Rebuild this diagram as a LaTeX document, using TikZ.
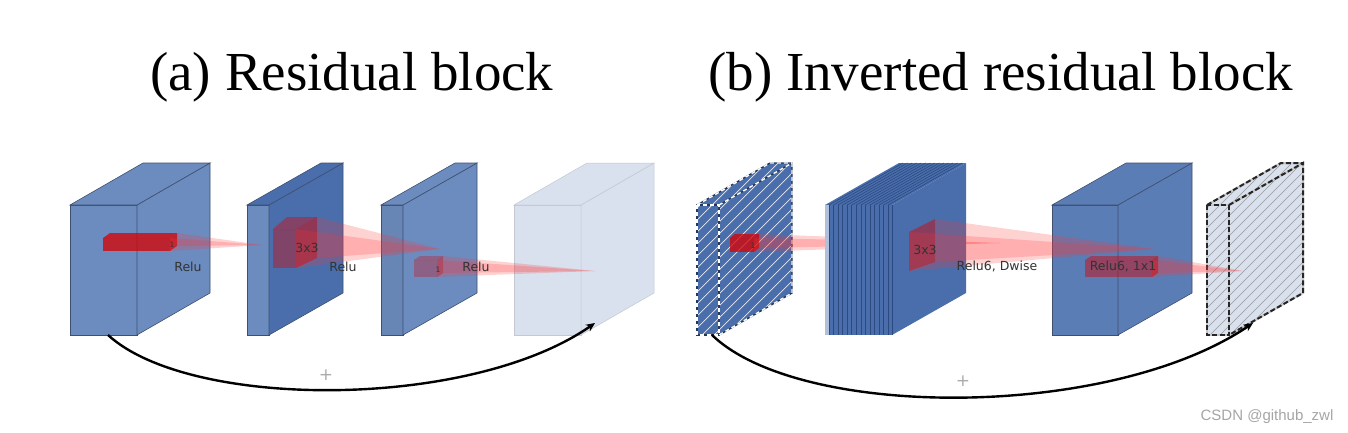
\documentclass[tikz,border=0pt]{standalone}
\usepackage{fontspec}
\setmainfont{Liberation Serif}
\newfontfamily\lblfont{DejaVu Sans}
\newfontfamily\wmfont{Liberation Sans}
\usetikzlibrary{arrows.meta}
\definecolor{bA}{HTML}{6C8CBF}
\definecolor{bB}{HTML}{4A6EAB}
\definecolor{bC}{HTML}{5B7DB5}
\definecolor{bL}{HTML}{D9E0EE}
\definecolor{edgeC}{HTML}{3F4F6F}
\definecolor{txt}{HTML}{333333}
\definecolor{layerC}{HTML}{2C4A80}
\newcommand\cuboid[9]{%
  \path[#7] (#1,#3) rectangle (#2,#4);
  \path[#8] (#2,#3) -- ++(#5,-#6) -- ++(0,#4-#3) -- (#2,#4) -- cycle;
  \path[#9] (#1,#3) -- ++(#5,-#6) -- ++(#2-#1,0) -- (#2,#3) -- cycle;
}
\tikzset{
  face/.style={fill=#1, draw=edgeC, line width=0.6pt},
  lightface/.style={fill=bL, draw=bL!75!gray, line width=0.5pt},
  prism/.style={fill=red!85!black, fill opacity=#1, draw=none},
  prism/.default=0.75,
  cone/.style={fill=red!80, fill opacity=0.22, draw=none},
  lbl/.style={font=\lblfont\fontsize{12.5}{14}\selectfont, text=txt, inner sep=0pt, anchor=base},
  one/.style={font=\lblfont\fontsize{7.5}{9}\selectfont, text=txt, inner sep=0pt, anchor=base},
  title/.style={font=\fontsize{55}{60}\selectfont, inner sep=0pt, anchor=base west},
  skiparrow/.style={line width=2.4pt, -{Stealth[length=9pt,width=8pt]}, black},
  plus/.style={font=\lblfont\fontsize{17}{18}\selectfont, text=gray!65, inner sep=0pt},
  wm/.style={font=\wmfont\fontsize{15}{16}\selectfont, text=gray!70, inner sep=0pt, anchor=base},
  layerline/.style={draw=layerC, line width=0.6pt},
  hatchW/.style={draw=white!85!bB, line width=0.7pt},
  hatchG/.style={draw=gray!80, line width=0.6pt},
  darkedge/.style={draw=bB!50!black, line width=1.4pt},
  whitedash/.style={draw=white, line width=1.4pt, dash pattern=on 4pt off 3pt},
  grayedge/.style={draw=gray!45, line width=2pt},
  graydash/.style={draw=gray!30!black, line width=2pt, dash pattern=on 5pt off 2.5pt},
}
\begin{document}
\begin{tikzpicture}[x=1pt,y=-1pt]
\useasboundingbox (0,0) rectangle (1348,433);
\fill[white] (0,0) rectangle (1348,433);

% titles
\node[title] (ta) at (150,91) {(a) Residual block};
\node[title] (tb) at (708,91) {(b) Inverted residual block};

% ---------------- (a) ----------------
\cuboid{70}{137}{205}{335}{73}{42}{face=bA}{face=bA}{face=bA}
\cuboid{247}{269}{205}{335}{74}{42}{face=bA}{face=bB}{face=bB}
\cuboid{381}{403}{205}{335}{74}{42}{face=bA!95!black}{face=bA}{face=bA}
\cuboid{514}{581}{205}{335}{73}{42}{lightface}{lightface}{lightface}

% prism in box 1
\cuboid{103}{170}{238}{251}{7}{5}{prism}{prism}{prism}
\fill[cone] (170,238) -- (170,251) -- (262,245) -- cycle;
\fill[cone] (177,233) -- (177,246) -- (262,245) -- cycle;

% cube in box 2
\path[prism=0.38] (273,229) rectangle (296,268);
\path[prism=0.4] (273,229) -- (296,229) -- (317,217) -- (287,217) -- cycle;
\path[prism=0.5] (296,229) -- (317,217) -- (317,258) -- (296,268) -- cycle;
\fill[cone] (296,229) -- (296,268) -- (440,249) -- cycle;
\fill[cone] (317,217) -- (317,258) -- (440,249) -- cycle;

% prism in box 3
\path[prism=0.3] (414,260) rectangle (437,277);
\path[prism=0.3] (414,260) -- (437,260) -- (443,256) -- (420,256) -- cycle;
\path[prism=0.4] (437,260) -- (443,256) -- (443,273) -- (437,277) -- cycle;
\fill[cone] (437,260) -- (437,277) -- (595,271) -- cycle;
\fill[cone] (443,256) -- (443,273) -- (595,271) -- cycle;

\node[one] (o1) at (172,247) {1};
\node[one] (o2) at (438,272) {1};
\node[lbl] (r1) at (188,271) {Relu};
\node[lbl] (k1) at (307,252) {3x3};
\node[lbl] (r2) at (343,271) {Relu};
\node[lbl] (r3) at (476,271) {Relu};

\coordinate (a0) at (108,335);
\coordinate (a1) at (595,323);
\draw[skiparrow] (a0) .. controls (190,410) and (470,410) .. (a1);
\node[plus] (pa) at (326,375) {+};

% ---------------- (b) ----------------
% box 5 (hatched, thin)
\fill[bB] (697,335) -- (697,205) -- (770,163) -- (792,163) -- (792,293) -- (719,335) -- cycle;
\begin{scope}
  \clip (697,335) -- (697,205) -- (770,163) -- (792,163) -- (792,293) -- (719,335) -- cycle;
  \foreach \k in {0,...,24} \draw[hatchW] ({560+\k*12},345) -- ++(190,-190);
\end{scope}
\foreach \s in {darkedge,whitedash}{
  \draw[\s] (697,205) rectangle (719,335);
  \draw[\s] (719,205) -- (792,163) -- (792,293) -- (719,335);
  \draw[\s] (697,205) -- (770,163) -- (792,163);
}
% prism in box 5
\cuboid{730}{754}{238}{252}{5}{4}{prism}{prism}{prism}
\fill[cone] (754,238) -- (754,252) -- (1000,243) -- cycle;
\fill[cone] (759,234) -- (759,248) -- (1000,243) -- cycle;
\node[one] (o3) at (753,248) {1};

% box 6 (layered)
\cuboid{825}{892}{205}{335}{74}{42}{fill=bB}{fill=bB}{fill=bB}
\fill[bA!55!white] (825,205) rectangle (829,335);
\foreach \i in {0,...,13}{
  \draw[layerline] ({829+\i*4.55},205) -- ++(0,130);
  \draw[layerline] ({829+\i*4.55},205) -- ++(74,-42);
}
\draw[layerline] (892,205) -- (892,335);

% box 7
\cuboid{1052}{1118}{205}{335}{74}{42}{face=bC}{face=bC}{face=bC}

% box 8 (light, hatched, dashed)
\fill[bL] (1207,335) -- (1207,205) -- (1281,163) -- (1303,163) -- (1303,293) -- (1229,335) -- cycle;
\begin{scope}
  \clip (1207,335) -- (1207,205) -- (1281,163) -- (1303,163) -- (1303,293) -- (1229,335) -- cycle;
  \foreach \k in {0,...,30} \draw[hatchG] ({1060+\k*10},345) -- ++(190,-190);
\end{scope}
\foreach \s in {grayedge,graydash}{
  \draw[\s] (1207,205) rectangle (1229,335);
  \draw[\s] (1229,205) -- (1303,163) -- (1303,293) -- (1229,335);
  \draw[\s] (1207,205) -- (1281,163) -- (1303,163);
}

% cube in box 6
\path[prism=0.45] (909,232) -- (935,219) -- (935,262) -- (909,271) -- cycle;
\fill[cone] (935,219) -- (935,262) -- (1155,249) -- cycle;
\fill[cone] (909,232) -- (909,271) -- (1155,249) -- cycle;

% prism in box 7
\path[prism=0.45] (1085,260) rectangle (1152,277);
\path[prism=0.45] (1085,260) -- (1152,260) -- (1158,256) -- (1091,256) -- cycle;
\path[prism=0.6] (1152,260) -- (1158,256) -- (1158,273) -- (1152,277) -- cycle;
\fill[cone] (1152,260) -- (1152,277) -- (1243,271) -- cycle;
\fill[cone] (1158,256) -- (1158,273) -- (1243,271) -- cycle;

\node[lbl] (k2) at (925,254) {3x3};
\node[lbl] (r4) at (997,270) {Relu6, Dwise};
\node[lbl] (r5) at (1123,270) {Relu6, 1x1};

\coordinate (b0) at (712,335);
\coordinate (b1) at (1253,323);
\draw[skiparrow] (b0) .. controls (800,420) and (1110,420) .. (b1);
\node[plus] (pb) at (963,381) {+};

\node[wm] (wmk) at (1267,420) {CSDN @github\_zwl};
\end{tikzpicture}
\end{document}
